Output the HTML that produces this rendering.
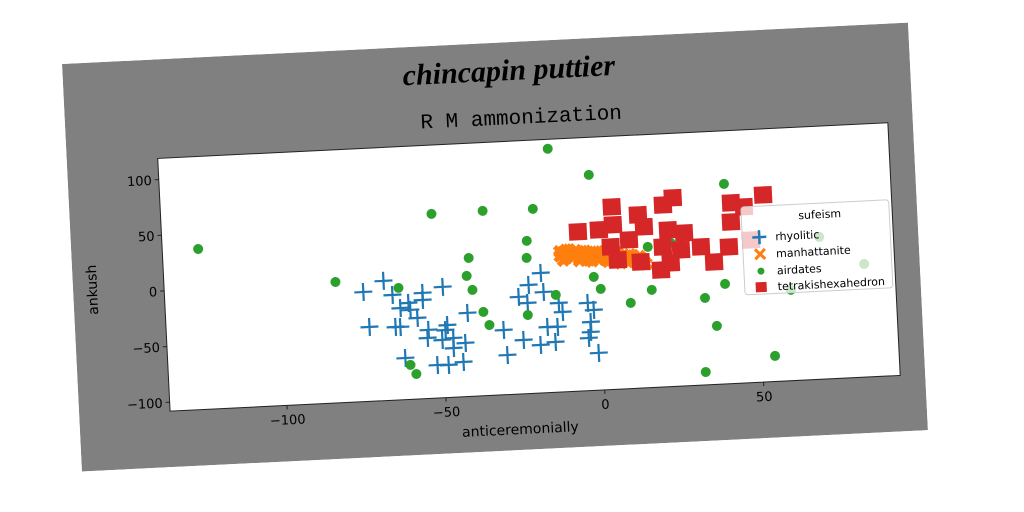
<!DOCTYPE html>
<html><head><meta charset="utf-8"><style>
html,body{margin:0;padding:0;background:#fff;width:1024px;height:512px;overflow:hidden}
#fig{position:absolute;left:62px;top:64px;width:847px;height:408px;transform-origin:0 0;transform:rotate(-2.8deg)}
text{font-family:"DejaVu Sans","Liberation Sans",sans-serif}
</style></head><body>
<div id="fig">
<svg id="chart" width="847" height="408" xmlns="http://www.w3.org/2000/svg">
<rect x="0" y="0" width="847" height="408" fill="#808080"/>
<text x="446" y="38" text-anchor="middle" font-size="30" font-style="italic" font-weight="bold" style="font-family:'URW Chancery L','Z003','Liberation Serif',cursive">chincapin puttier</text>
<text x="456" y="82" text-anchor="middle" font-size="21" style="font-family:'Liberation Mono',monospace">R M ammonization</text>
<rect x="91" y="99" width="731" height="253" fill="#fff" stroke="#222" stroke-width="1"/>
<g id="ticks"></g>
<g id="marks"></g>
<text x="440" y="392" text-anchor="middle" font-size="14">anticeremonially</text>
<text x="0" y="0" transform="translate(24,227) rotate(-90)" text-anchor="middle" font-size="14">ankush</text>
<g id="legend">
<rect x="671" y="176" width="148" height="88" rx="3" fill="#fff" fill-opacity="0.75" stroke="#ccc"/>
<text x="728" y="191" font-size="11">sufeism</text>
<g><path d="M681,207h14M688,200v14" stroke="#1f77b4" stroke-width="2.5"/><text x="704" y="211" font-size="11">rhyolitic</text></g>
<g><path d="M683,219l10,10M693,219l-10,10" stroke="#ff7f0e" stroke-width="3"/><text x="704" y="228" font-size="11">manhattanite</text></g>
<g><circle cx="688" cy="241" r="3.5" fill="#2ca02c"/><text x="704" y="245" font-size="11">airdates</text></g>
<g><rect x="682" y="252" width="11" height="10" fill="#d62728"/><text x="704" y="261" font-size="11">tetrakishexahedron</text></g>
</g>
</svg></div>
<script>
const xTicks=[-100,-50,0,50];
const yTicks=[100,50,0,-50,-100];
const rhyoliticX=[-74.3,-67.8,-65.2,-60.3,-59.8,-55.7,-55.8,-49.3,-57.7,-72.9,-64.7,-63.2,-54.4,-48.4,-49.1,-54.8,-50.2,-46.7,-41.9,-43,-62.1,-52.1,-48.6,-43.9,-18.3,-22.3,-17.7,-25.6,-22.9,-13.1,-12,-30.8,-30,-24.7,-19.4,-14.7,-17,-13.8,-4,-2.2,-3.3,-3.5,-4.2,-1.3,-62.9,-46.8];
const rhyoliticY=[-9.7,-0.6,-13.6,-21.5,-27.8,-13.1,-19.4,-8.6,-35.3,-41.3,-42.4,-42.7,-46.5,-43,-47.4,-53.7,-56.1,-54.9,-33,-59.8,-70.7,-78.4,-78.8,-76.8,-0.4,-10.6,-17.6,-20.9,-26.7,-28.1,-36.3,-49.9,-72.5,-59.7,-64.9,-62.9,-49.1,-49.5,-29.3,-35.9,-46.5,-55.5,-60.8,-74.6,-25.7,-63.9];
const manhX=[-12,-11,-10,-9,-8,-7,-6,-5,-4,-3,-2,-1,0,1,2,3,4,5,6,7,8,9,10,11,12,13,14,-10,-7,-4,-1,2,5,8,11,-11,-6,-2,3,7,12,-12,-9,-5,-3,0,4,6,9,13,-8,-4,1,5,10,15];
const manhY=[14,17,12,15,13,16,11,14,12,15,10,13,11,14,9,12,10,12,8,11,9,10,7,9,6,8,5,19,18,17,16,15,14,12,11,10,9,8,7,5,4,18,19,17,9,16,8,14,6,10,16,11,12,7,12,3];
const airX=[-125.5,-82.9,-63.2,-41.6,-40,-36.9,-35.2,-40.7,-23,-13.9,-60.6,-58.9,-1.7,0.3,9.5,16.3,32.9,39.4,36.2,54,32,83.4,60,-14.2,-1.7,-51.7,-35.6,-19.8,-22.2,-22.5,15.7,23,40.6,69.7];
const airY=[36.1,0.5,-7.6,0.2,-12.6,-32.8,-44.8,16.2,-37.5,-20.7,-77.1,-85.5,-6.3,-17.3,-31.2,-20.4,-30,-18.3,-55.6,-85,-96.4,-6.5,-26.5,110.6,85.4,57.3,57.8,57.4,29,13.7,18.3,20.8,71.4,19.7];
const tetraX=[5,-6,0.6,5.1,13.1,14.8,21.1,24.3,42.5,46.5,52.7,42.2,4.1,9.9,6.1,13.3,22.3,27.3,20.4,26.1,32.4,19.5,22.7,36.3,41.2,48.2];
const tetraY=[55.7,34.8,35.7,39.6,47.4,36.4,55.2,61.1,54.1,50,59.8,37,19.9,25.4,7.9,5.1,32.6,29.2,17.6,14.1,16,-3,2.9,1.9,14.7,20];
const X0=91,X1=822,XMIN=-136.8,XMAX=93,Y0=352,Y1=99,YMIN=-108,YMAX=119;
const sx=v=>X0+(v-XMIN)/(XMAX-XMIN)*(X1-X0);
const sy=v=>Y0-(v-YMIN)/(YMAX-YMIN)*(Y0-Y1);
const NS='http://www.w3.org/2000/svg';
const mk=(t,a,p)=>{const e=document.createElementNS(NS,t);for(const k in a)e.setAttribute(k,a[k]);p.appendChild(e);return e;};
const tg=document.getElementById('ticks'),mg=document.getElementById('marks');
const fmt=v=>v<0?'\u2212'+(-v):''+v;
xTicks.forEach(v=>{const x=sx(v);
 const l=mk('line',{x1:x,x2:x,y1:352,y2:356,stroke:'#222'},tg);
 
 
 const t=mk('text',{x:x,y:371,'text-anchor':'middle','font-size':13},tg);t.textContent=fmt(v);
 
 });
yTicks.forEach(v=>{const y=sy(v);
 const l=mk('line',{x1:87,x2:91,y1:y,y2:y,stroke:'#222'},tg);
 
 
 const t=mk('text',{x:84,y:y+5,'text-anchor':'end','font-size':13},tg);t.textContent=fmt(v);
 
 });
rhyoliticX.forEach((v,i)=>{const x=sx(v),y=sy(rhyoliticY[i]);
 const p=mk('path',{d:`M${x-9},${y}h18M${x},${y-9}v18`,stroke:'#1f77b4','stroke-width':2.2},mg);
 
 });
manhX.forEach((v,i)=>{const x=sx(v),y=sy(manhY[i]);
 const p=mk('path',{d:`M${x-5},${y-5}l10,10M${x+5},${y-5}l-10,10`,stroke:'#ff7f0e','stroke-width':5},mg);
 
 });
airX.forEach((v,i)=>{
 const c=mk('circle',{cx:sx(v),cy:sy(airY[i]),r:5,fill:'#2ca02c'},mg);
 
 });
tetraX.forEach((v,i)=>{
 const r=mk('rect',{x:sx(v)-9,y:sy(tetraY[i])-8.5,width:18,height:17,fill:'#d62728'},mg);
 
 });
</script>
</body></html>
